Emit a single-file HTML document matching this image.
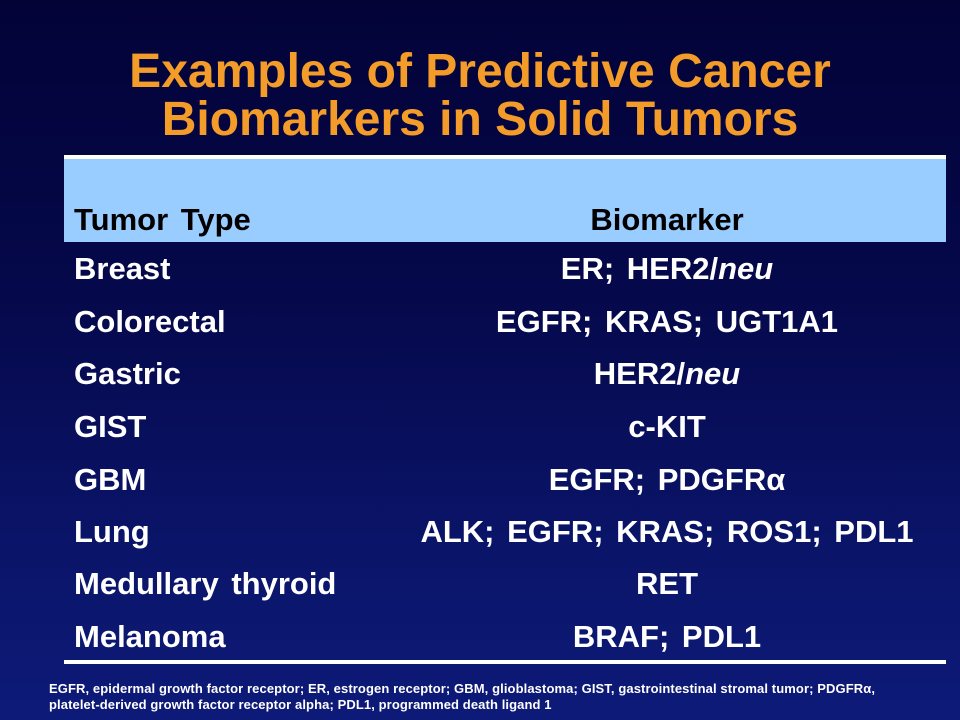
<!DOCTYPE html>
<html><head><meta charset="utf-8"><style>
body{margin:0;width:960px;height:720px;overflow:hidden;font-family:"Liberation Sans",Arial,sans-serif;font-weight:bold;
background:linear-gradient(180deg,#030338 0%,#05084a 40%,#0a1468 75%,#0d1a78 100%);position:relative}
.t{position:absolute;left:0;width:960px;text-align:center;color:#f39c2a;font-size:48px;line-height:48px}
.line{position:absolute;left:64px;width:882px;height:4px;background:#fff}
.hdr{position:absolute;left:64px;top:159px;width:882px;height:83px;background:#99ccff}
.c{position:absolute;font-size:31px;line-height:32px;white-space:nowrap;word-spacing:4px}
.l{left:74px}.r{left:388px;width:558px;text-align:center}
.w{color:#fff}.k{color:#000}
.fn{position:absolute;left:49px;top:681px;color:#fff;font-size:13px;line-height:16px;letter-spacing:0.1px;white-space:nowrap}
</style></head><body>
<div class="t" style="top:48px">Examples of Predictive Cancer<br>Biomarkers in Solid Tumors</div>
<div class="line" style="top:155px"></div>
<div class="hdr"></div>
<div class="c l k" style="top:204px">Tumor Type</div>
<div class="c r k" style="top:204px">Biomarker</div>
<div class="c l w" style="top:253px">Breast</div>
<div class="c r w" style="top:253px">ER; HER2/<i>neu</i></div>
<div class="c l w" style="top:306px">Colorectal</div>
<div class="c r w" style="top:306px">EGFR; KRAS; UGT1A1</div>
<div class="c l w" style="top:358px">Gastric</div>
<div class="c r w" style="top:358px">HER2/<i>neu</i></div>
<div class="c l w" style="top:411px">GIST</div>
<div class="c r w" style="top:411px">c-KIT</div>
<div class="c l w" style="top:464px">GBM</div>
<div class="c r w" style="top:464px">EGFR; PDGFRα</div>
<div class="c l w" style="top:516px">Lung</div>
<div class="c r w" style="top:516px">ALK; EGFR; KRAS; ROS1; PDL1</div>
<div class="c l w" style="top:568px">Medullary thyroid</div>
<div class="c r w" style="top:568px">RET</div>
<div class="c l w" style="top:621px">Melanoma</div>
<div class="c r w" style="top:621px">BRAF; PDL1</div>
<div class="line" style="top:660px"></div>
<div class="fn">EGFR, epidermal growth factor receptor; ER, estrogen receptor; GBM, glioblastoma; GIST, gastrointestinal stromal tumor; PDGFRα,<br>platelet-derived growth factor receptor alpha; PDL1, programmed death ligand 1</div>
</body></html>
